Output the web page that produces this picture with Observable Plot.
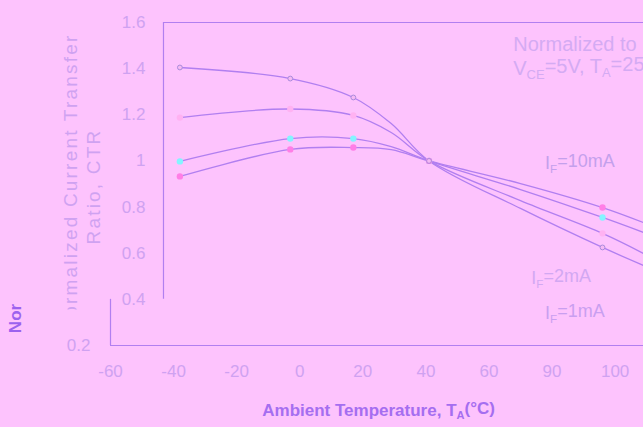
<!DOCTYPE html>
<html><head><meta charset="utf-8">
<script src="https://cdn.jsdelivr.net/npm/d3@7"></script>
<script src="https://cdn.jsdelivr.net/npm/@observablehq/plot@0.6"></script>
<style>
html,body{margin:0;padding:0;background:#fdc3fd;}
#chart svg{display:block}
</style></head><body><div id="chart"></div>
<script>
// Ambient temperature (°C) sample points
const temps = [-38, -3, 17, 29, 41, 70, 96, 109];
// Temperatures where markers are drawn
const markerTemps = [-38, -3, 17, 41, 96];
// Normalized CTR values per forward current
const ctr1mA  = [1.405, 1.357, 1.275, 1.162, 1.0, 0.794, 0.625, 0.547];
const ctr2mA  = [1.188, 1.225, 1.197, 1.123, 1.0, 0.828, 0.686, 0.599];
const ctr5mA  = [0.998, 1.097, 1.097, 1.062, 1.0, 0.876, 0.755, 0.690];
const ctr10mA = [0.933, 1.050, 1.058, 1.049, 1.0, 0.902, 0.798, 0.733];
const seriesNames = ["1mA", "2mA", "5mA", "10mA"];
const seriesValues = [ctr1mA, ctr2mA, ctr5mA, ctr10mA];
const markerColors = ["#f6b8f4", "#ffb2f2", "#84f4ff", "#ff7ee6"];
const markerStrokes = ["#a98bdc", "none", "none", "none"];
const markerRadius = [2.3, 4, 4, 4];

const xTicks = [-60, -40, -20, 0, 20, 40, 60, 80, 100];
const xTickLabels = ["-60", "-40", "-20", "0", "20", "40", "60", "90", "100"];
const yTicksUpper = [1.6, 1.4, 1.2, 1.0, 0.8, 0.6, 0.4];
const yTicksLower = [0.2];
const yTickLabels = new Map([[1.6, "1.6"], [1.4, "1.4"], [1.2, "1.2"], [1.0, "1"], [0.8, "0.8"], [0.6, "0.6"], [0.4, "0.4"], [0.2, "0.2"]]);
const xLabelMap = new Map(xTicks.map((t, i) => [t, xTickLabels[i]]));

const yTitle1 = "Normalized Current Transfer";
const yTitle2 = "Ratio, CTR";

const rows = [];
seriesNames.forEach((s, si) => temps.forEach((t, i) => rows.push({series: s, si, t, v: seriesValues[si][i]})));
const markerRows = rows.filter(d => markerTemps.includes(d.t));

const lineColor = "#b17ff0";
const tickText = "#cfa2f1";
const font = "Liberation Sans, Arial, sans-serif";

const chart = Plot.plot({
  width: 643, height: 427,
  marginLeft: 110, marginRight: 0, marginTop: 22, marginBottom: 82,
  style: {background: "#fdc3fd", fontFamily: font},
  x: {domain: [-60, 109]},
  y: {domain: [0.2, 1.6]},
  marks: [
    // frames
    Plot.ruleY([1.6], {x1: -43.2, x2: 109, stroke: lineColor, strokeWidth: 1.2}),
    Plot.ruleX([-43.2], {y1: 0.4, y2: 1.6, stroke: lineColor, strokeWidth: 1.2}),
    Plot.ruleX([-60], {y1: 0.2, y2: 0.4, stroke: lineColor, strokeWidth: 1.2}),
    Plot.ruleY([0.2], {stroke: lineColor, strokeWidth: 1.2}),
    // axes
    Plot.axisX(xTicks, {tickSize: 0, tickPadding: 19, fontSize: 17, fill: tickText, tickFormat: d => xLabelMap.get(d), label: null}),
    Plot.axisY(yTicksUpper, {tickSize: 0, tickPadding: 0, dx: 35, fontSize: 17, fill: tickText, tickFormat: d => yTickLabels.get(d), label: null}),
    Plot.axisY(yTicksLower, {tickSize: 0, tickPadding: 20, fontSize: 17, fill: tickText, tickFormat: d => yTickLabels.get(d), label: null}),
    // curves
    Plot.line(rows, {x: "t", y: "v", z: "series", curve: "catmull-rom", stroke: lineColor, strokeWidth: 1.3}),
    Plot.dot(markerRows, {x: "t", y: "v", r: d => markerRadius[d.si], fill: d => markerColors[d.si], stroke: d => markerStrokes[d.si], strokeWidth: 1}),
    // annotations
    Plot.text(["Normalized to"], {x: 67.7, y: 1.505, textAnchor: "start", fontSize: 20, fill: "#d4abf3", fontFamily: font}),
    Plot.text(["V_CE=5V, T_A=25°C"], {x: 67.7, y: 1.40, textAnchor: "start", fontSize: 20, fill: "#d4abf3", fontFamily: font}),
    Plot.text(["I_F=10mA"], {x: 77.8, y: 0.989, textAnchor: "start", fontSize: 18, fill: "#c4a0ec", fontFamily: font}),
    Plot.text(["I_F=2mA"], {x: 73.4, y: 0.49, textAnchor: "start", fontSize: 18, fill: "#d2a8f2", fontFamily: font}),
    Plot.text(["I_F=1mA"], {x: 77.8, y: 0.339, textAnchor: "start", fontSize: 18, fill: "#c99ff0", fontFamily: font}),
    // axis titles
    Plot.text(["Ambient Temperature, T_A(°C)"], {x: 25, y: -0.082, textAnchor: "middle", fontSize: 17, fontWeight: 600, fill: "#a56ef0", fontFamily: font}),
    Plot.text([yTitle1], {x: -72.7, y: 1.552, rotate: -90, textAnchor: "end", fontSize: 19, fill: "#cfa2f1", fontFamily: font}),
    Plot.text([yTitle2], {x: -65.4, y: 0.889, rotate: -90, textAnchor: "middle", fontSize: 19, fill: "#cfa2f1", fontFamily: font}),
    Plot.text(["Nor"], {x: -90.1, y: 0.317, rotate: -90, textAnchor: "middle", fontSize: 17, fontWeight: 700, fill: "#9c62ee", fontFamily: font})
  ]
});

const svg = d3.select(chart);

// subscripts
svg.selectAll("text").each(function() {
  const el = this;
  if (el.querySelector("tspan")) return;
  const txt = el.textContent;
  if (!txt.includes("_")) return;
  const parts = txt.split(/_([A-Z]+)/);
  el.textContent = "";
  const sel = d3.select(el);
  parts.forEach((p, i) => {
    if (!p) return;
    if (i % 2 === 1) {
      sel.append("tspan").attr("font-size", "0.65em").attr("dy", "0.3em").text(p);
    } else {
      const ts = sel.append("tspan").text(p);
      if (i > 0) ts.attr("dy", "-0.3em");
    }
  });
});

// letter spacing and clipping of the thin y title
svg.append("defs").append("clipPath").attr("id", "ytclip")
  .append("rect").attr("x", 0).attr("y", 0).attr("width", 643).attr("height", 309);
svg.selectAll("text").filter(function() { return this.textContent === yTitle1 || this.textContent === yTitle2; })
  .attr("letter-spacing", "2.2px")
  .style("letter-spacing", "2.2px")
  .each(function() {
    if (this.textContent === yTitle1) {
      const g = this.parentNode;
      const wrap = document.createElementNS("http://www.w3.org/2000/svg", "g");
      wrap.setAttribute("clip-path", "url(#ytclip)");
      g.insertBefore(wrap, this);
      wrap.appendChild(this);
    }
  });

document.getElementById("chart").appendChild(chart);
</script>
</body></html>
